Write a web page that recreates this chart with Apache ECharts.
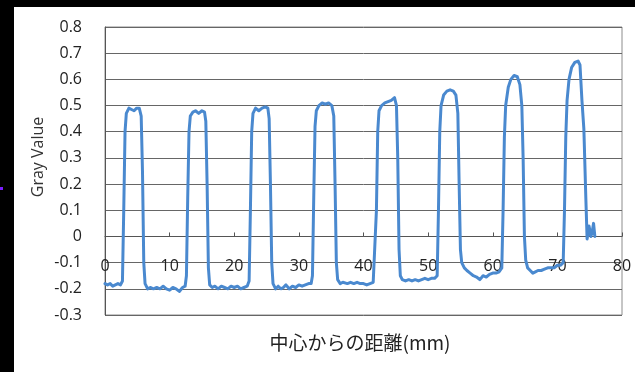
<!DOCTYPE html>
<html>
<head>
<meta charset="utf-8">
<script src="https://cdn.jsdelivr.net/npm/echarts@6/dist/echarts.min.js"></script>
<style>
html,body{margin:0;padding:0;background:#fff;}
#chart{width:635px;height:372px;}
</style>
</head>
<body>
<div id="chart"></div>
<script>
// Distance from center (mm)
const distance = [
0,0.4,0.8,1.2,1.6,2.0,2.4,2.7,2.9,3.1,3.3,3.7,4.1,4.5,4.9,5.3,5.6,5.8,6.0,6.2,6.6,7.0,7.5,8.0,8.5,9.0,9.5,10.0,10.5,11.0,11.5,12.0,12.4,
12.6,12.8,13.0,13.2,13.6,14.0,14.5,15.0,15.4,15.6,15.8,16.0,16.2,16.6,17.0,17.5,18.0,18.5,19.0,19.5,20.0,20.5,21.0,21.5,22.0,22.3,
22.5,22.7,22.9,23.3,23.8,24.3,24.8,25.2,25.4,25.6,25.8,26.0,26.4,26.8,27.2,27.6,28.0,28.5,29.0,29.5,30.0,30.5,31.0,31.5,31.9,
32.1,32.3,32.5,32.7,33.1,33.6,34.1,34.6,35.1,35.4,35.6,35.8,36.0,36.4,36.8,37.5,38.0,38.5,39.0,39.5,40.0,40.5,41.0,41.5,41.8,
42.0,42.2,42.4,42.8,43.3,43.8,44.3,44.8,45.1,45.3,45.5,45.7,46.0,46.5,47.0,47.5,48.0,48.5,49.0,49.5,50.0,50.5,51.0,51.4,
51.6,51.8,52.0,52.4,52.9,53.4,53.9,54.3,54.6,54.8,55.0,55.2,55.6,56.0,56.5,57.0,57.5,58.0,58.5,59.0,59.5,60.0,60.5,61.0,61.4,
61.6,61.8,62.0,62.4,62.8,63.3,63.8,64.2,64.5,64.7,64.9,65.1,65.4,65.8,66.2,66.6,67.0,67.5,68.0,68.5,69.0,69.5,70.0,70.5,70.9,
71.1,71.3,71.5,71.8,72.2,72.7,73.2,73.5,73.8,74.1,74.4,74.6,74.9,75.2,75.4,75.6,75.8
];
// Gray value
const grayValue = [
-0.18,-0.185,-0.18,-0.19,-0.185,-0.18,-0.185,-0.17,0.1,0.4,0.47,0.49,0.485,0.48,0.49,0.49,0.46,0.25,-0.1,-0.18,-0.2,-0.195,-0.2,-0.195,-0.2,-0.19,-0.2,-0.205,-0.195,-0.2,-0.21,-0.195,-0.19,
-0.15,0.15,0.4,0.46,0.475,0.48,0.47,0.48,0.475,0.44,0.2,-0.12,-0.185,-0.195,-0.19,-0.2,-0.19,-0.195,-0.2,-0.19,-0.195,-0.19,-0.2,-0.195,-0.19,-0.17,
0.1,0.4,0.47,0.49,0.48,0.49,0.495,0.49,0.45,0.2,-0.1,-0.18,-0.2,-0.19,-0.2,-0.195,-0.185,-0.2,-0.19,-0.195,-0.185,-0.19,-0.185,-0.18,-0.18,
-0.15,0.15,0.42,0.48,0.5,0.51,0.505,0.51,0.5,0.46,0.2,-0.1,-0.165,-0.18,-0.175,-0.18,-0.175,-0.18,-0.175,-0.18,-0.18,-0.185,-0.18,-0.175,-0.17,
0.1,0.4,0.48,0.5,0.51,0.515,0.52,0.53,0.5,0.3,-0.05,-0.15,-0.165,-0.17,-0.165,-0.17,-0.165,-0.17,-0.165,-0.16,-0.165,-0.16,-0.16,-0.15,
0.1,0.4,0.5,0.54,0.555,0.56,0.555,0.54,0.47,0.2,-0.05,-0.1,-0.12,-0.13,-0.14,-0.15,-0.155,-0.165,-0.15,-0.155,-0.145,-0.14,-0.14,-0.135,-0.12,
0.1,0.38,0.5,0.57,0.6,0.615,0.61,0.58,0.5,0.3,0.0,-0.09,-0.12,-0.13,-0.14,-0.135,-0.13,-0.13,-0.125,-0.12,-0.12,-0.12,-0.11,-0.11,-0.1,
0.1,0.38,0.52,0.6,0.645,0.665,0.67,0.655,0.52,0.41,0.15,-0.01,0.04,0.0,0.02,0.05,0.0
];
const xTitle = '中心からの距離(mm)';
const yTitle = 'Gray Value';

const points = distance.map((d, i) => [d, grayValue[i]]);
const font = '"Open Sans", "Liberation Sans", sans-serif';

const yMin = -0.3, yMax = 0.8;
const gridTop = 27, gridBottom = 57, H = 372;
const plotH = H - gridTop - gridBottom;
// shift the x axis up so that it crosses the y axis at 0
const xAxisOffset = -plotH * (0 - yMin) / (yMax - yMin);

const chart = echarts.init(document.getElementById('chart'), null, {renderer: 'canvas'});
chart.setOption({
  backgroundColor: '#ffffff',
  animation: false,
  grid: {left: 105, right: 13, top: gridTop, bottom: gridBottom, show: true, borderColor: '#8c8c8c', borderWidth: 1, backgroundColor: 'transparent'},
  xAxis: {
    type: 'value', min: 0, max: 80, interval: 10, position: 'bottom', offset: xAxisOffset,
    axisLine: {onZero: false, lineStyle: {color: '#555', width: 1}},
    axisTick: {show: true, inside: true, length: 4, lineStyle: {color: '#555'}},
    axisLabel: {margin: 22, fontSize: 16, color: '#222', fontFamily: font},
    splitLine: {show: false}
  },
  yAxis: {
    type: 'value', min: yMin, max: yMax, interval: 0.1,
    axisLine: {show: true, onZero: false, lineStyle: {color: '#555', width: 1}},
    axisTick: {show: false},
    axisLabel: {margin: 23, fontSize: 16, color: '#222', fontFamily: font,
      formatter: v => String(+v.toFixed(1))},
    splitLine: {show: true, lineStyle: {color: '#666', width: 1}}
  },
  series: [{
    type: 'line', data: points, showSymbol: false, smooth: false,
    lineStyle: {color: '#4a89cf', width: 3, join: 'round', cap: 'round'},
    z: 3
  }],
  graphic: [
    {type: 'rect', left: 0, top: 0, shape: {width: 635, height: 7}, style: {fill: '#000'}},
    {type: 'rect', left: 0, top: 0, shape: {width: 14, height: 372}, style: {fill: '#000'}},
    {type: 'rect', left: 0, top: 187, shape: {width: 3, height: 3}, style: {fill: '#7a1cff'}},
    {type: 'text', x: 38, y: 157, rotation: Math.PI / 2,
      style: {text: yTitle, fontSize: 16, fill: '#333', fontFamily: font, textAlign: 'center', textVerticalAlign: 'middle'}},
    {type: 'text', x: 360, y: 343,
      style: {text: xTitle, fontSize: 19, fill: '#222', fontFamily: '"Noto Sans CJK JP", "Open Sans", sans-serif', textAlign: 'center', textVerticalAlign: 'middle'}}
  ]
});
</script>
</body>
</html>
